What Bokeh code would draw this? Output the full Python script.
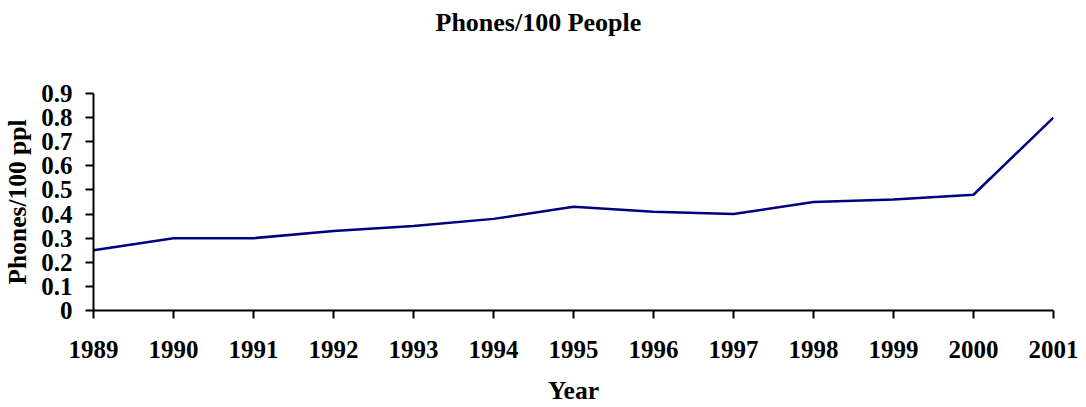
from bokeh.plotting import figure
from bokeh.models import FixedTicker, Title, Range1d
from bokeh.embed import file_html
from bokeh.resources import INLINE

years = [1989, 1990, 1991, 1992, 1993, 1994, 1995, 1996, 1997, 1998, 1999, 2000, 2001]
phones = [0.25, 0.30, 0.30, 0.33, 0.35, 0.38, 0.43, 0.41, 0.40, 0.45, 0.46, 0.48, 0.80]
y_ticks = [0, 0.1, 0.2, 0.3, 0.4, 0.5, 0.6, 0.7, 0.8, 0.9]
y_tick_labels = ["0", "0.1", "0.2", "0.3", "0.4", "0.5", "0.6", "0.7", "0.8", "0.9"]
title_text = "Phones/100 People"
x_title = "Year"
y_title = "Phones/100 ppl"

FONT = "Liberation Serif"

p = figure(title=None, output_backend="svg", toolbar_location=None,
           x_range=Range1d(years[0], years[-1]), y_range=Range1d(0, 0.9),
           frame_width=960, frame_height=217,
           min_border_left=91, min_border_right=27, min_border_top=0, min_border_bottom=0)
p.outline_line_color = None
p.grid.visible = False
p.background_fill_color = "white"
p.border_fill_color = "white"

p.line(years, phones, line_color="#000080", line_width=2.5)

for ax in (p.xaxis[0], p.yaxis[0]):
    ax.axis_line_color = "black"
    ax.axis_line_width = 2
    ax.major_tick_line_color = "black"
    ax.major_tick_line_width = 2
    ax.major_tick_out = 8
    ax.major_tick_in = 0
    ax.minor_tick_line_color = None
    ax.major_label_text_font = FONT
    ax.major_label_text_font_style = "bold"
    ax.major_label_text_font_size = "25px"
    ax.major_label_text_color = "black"
    ax.axis_label_text_font = FONT
    ax.axis_label_text_font_style = "bold"
    ax.axis_label_text_font_size = "25.5px"
    ax.axis_label_text_color = "black"

p.xaxis.ticker = FixedTicker(ticks=years)
p.xaxis.major_label_overrides = {y: str(y) for y in years}
p.xaxis.major_label_standoff = 22
p.xaxis.axis_label = x_title
p.xaxis.axis_label_standoff = 15

p.yaxis.ticker = FixedTicker(ticks=y_ticks)
p.yaxis.major_label_overrides = dict(zip(y_ticks, y_tick_labels))
p.yaxis.major_label_standoff = 13
p.yaxis.axis_label = y_title
p.yaxis.axis_label_standoff = 6

# spacer (closest to frame), then the real title on top
p.add_layout(Title(text=" ", text_font_size="36px", text_font=FONT), "above")
p.add_layout(Title(text=title_text, text_font=FONT, text_font_style="bold",
                   text_font_size="26px", text_color="black", align="left", offset=342), "above")

open("out.html", "w").write(file_html(p, INLINE))
